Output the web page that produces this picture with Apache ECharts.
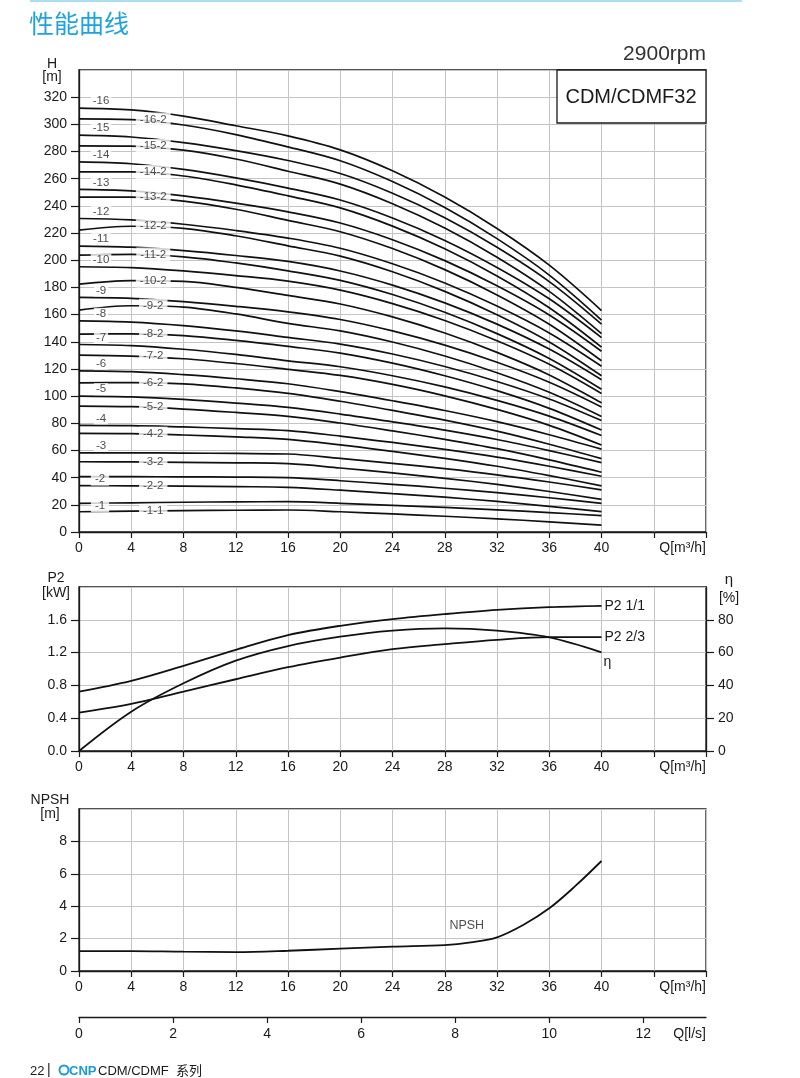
<!DOCTYPE html>
<html><head><meta charset="utf-8">
<script src="https://cdn.jsdelivr.net/npm/echarts@6/dist/echarts.min.js"></script>
<style>html,body{margin:0;padding:0;background:#fff}#c{width:800px;height:1078px}</style>
</head><body><div id="c"></div>
<script>
// ---------- DATA ----------
const Q = [0, 4, 8, 12, 16, 20, 24, 28, 32, 36, 40];           // m3/h
const h16   = [312, 310.6, 306.1, 299.0, 291.5, 281.2, 265.8, 246.5, 223.4, 196.4, 163];
const h16_2 = [304, 303.5, 299.5, 292.5, 283.4, 273.2, 257.9, 238.8, 215.9, 189.1, 156];
const h15   = [292, 290.7, 286.6, 280.7, 273.4, 263.8, 249.3, 231.3, 209.6, 184.3, 153];
const h15_2 = [284.2, 284, 281, 274.5, 265.5, 256, 241.6, 223.7, 202.2, 177.1, 146];
const h14   = [272.4, 271.0, 266.8, 260.6, 253.1, 244.3, 231.1, 214.6, 194.7, 171.6, 143];
const h14_2 = [265, 265, 262, 255.5, 247.4, 238.5, 225.1, 208.4, 188.4, 165, 136];
const h13   = [252.1, 251, 247.3, 242, 235.6, 227.4, 215.1, 199.7, 181.2, 159.7, 133];
const h13_2 = [246.4, 246.5, 243.5, 237.5, 229.3, 221, 208.6, 193.1, 174.5, 152.9, 126];
const h12   = [230.7, 229.7, 226.5, 221.9, 216.3, 208.8, 197.4, 183.3, 166.3, 146.5, 122];
const h12_2 = [222.1, 225, 223.5, 218, 210.6, 203, 191.5, 177.1, 159.9, 139.9, 115];
const h11   = [210.4, 209.6, 207.1, 203.5, 199.1, 192.1, 181.7, 168.6, 153, 134.6, 112];
const h11_2 = [203.7, 204.3, 202.5, 198, 192.2, 185.2, 174.8, 161.7, 146, 127.7, 105];
const h10   = [195.2, 194.5, 192.1, 188.7, 184.6, 178, 168.1, 155.7, 140.8, 123.5, 102];
const h10_2 = [182.4, 185, 184.5, 180, 174.1, 167.8, 158.3, 146.4, 132.2, 115.6, 95];
const h9    = [172.6, 171.9, 169.5, 166.1, 162, 156.4, 148, 137.5, 124.9, 110.2, 92];
const h9_2  = [163.3, 166.5, 165.5, 160.5, 153.5, 148, 139.8, 129.5, 117.2, 102.8, 85];
const h8    = [155.4, 154.5, 151.9, 148, 143.2, 138.3, 131, 121.8, 110.8, 97.9, 82];
const h8_2  = [145.6, 145.8, 144.5, 141, 136.6, 131.7, 124.3, 115, 104, 91, 75];
const h7    = [138, 137.2, 134.5, 130.7, 126, 121.6, 115, 106.8, 96.9, 85.3, 71];
const h7_2  = [130.2, 129.5, 127.5, 124, 119.7, 115.2, 108.6, 100.2, 90.2, 78.5, 64];
const h6    = [118.6, 118, 115.8, 112.8, 109.1, 103.3, 96.6, 89.4, 81.2, 71.6, 61];
const h6_2  = [109.8, 110, 109, 106, 102, 96.2, 89.5, 82.3, 74.2, 64.6, 54];
const h5    = [100, 99.4, 97.6, 94.9, 91.7, 86.8, 81.1, 75, 68.1, 59.9, 51];
const h5_2  = [92.7, 92.2, 90.5, 88, 85.1, 80.2, 74.4, 68.2, 61.3, 53.1, 44];
const h4    = [78.5, 78.3, 77.3, 76.1, 74.6, 70.6, 65.9, 60.8, 55.1, 48.4, 41];
const h4_2  = [72.6, 72.4, 71.4, 70, 68.2, 64.1, 59.3, 54.2, 48.4, 41.5, 34];
const h3    = [58.3, 58.3, 58.1, 57.8, 57.4, 54.2, 50.5, 46.6, 42.1, 36.8, 31];
const h3_2  = [51.7, 51.6, 51.3, 50.9, 50.3, 47.1, 43.5, 39.5, 35, 29.8, 24];
const h2    = [40.7, 40.7, 40.6, 40.4, 40, 37.7, 35.1, 32.2, 29, 25.2, 21];
const h2_2  = [34.1, 34, 33.8, 33.4, 32.9, 30.8, 28.2, 25.6, 22.5, 18.9, 15];
const h1    = [21.1, 21.5, 21.9, 22.2, 22.3, 21.1, 19.6, 18.1, 16.3, 14.3, 12];
const h1_1  = [14.9, 15.3, 15.7, 16, 16.2, 14.9, 13.3, 11.6, 9.7, 7.5, 5];

const p2Full     = [0.724, 0.855, 1.038, 1.234, 1.413, 1.527, 1.608, 1.67, 1.722, 1.755, 1.771];
const p2TwoThird = [0.468, 0.574, 0.724, 0.875, 1.022, 1.14, 1.242, 1.303, 1.356, 1.388, 1.388];
const eta        = [0, 24, 41.3, 55.1, 64, 69.7, 73.4, 74.8, 73.4, 69.3, 60.2];

const npshQ = [0, 4, 8, 12, 16, 20, 24, 28, 30, 32, 34, 36, 38, 40];
const npsh  = [1.23, 1.23, 1.19, 1.17, 1.25, 1.38, 1.5, 1.6, 1.77, 2.08, 2.84, 3.87, 5.25, 6.79];

const lsTicks = [0, 2, 4, 6, 8, 10, 12];
const lsMax = 48 / 3.6;

const curves = [
  ['-16', h16], ['-16-2', h16_2], ['-15', h15], ['-15-2', h15_2],
  ['-14', h14], ['-14-2', h14_2], ['-13', h13], ['-13-2', h13_2],
  ['-12', h12], ['-12-2', h12_2], ['-11', h11], ['-11-2', h11_2],
  ['-10', h10], ['-10-2', h10_2], ['-9', h9], ['-9-2', h9_2],
  ['-8', h8], ['-8-2', h8_2], ['-7', h7], ['-7-2', h7_2],
  ['-6', h6], ['-6-2', h6_2], ['-5', h5], ['-5-2', h5_2],
  ['-4', h4], ['-4-2', h4_2], ['-3', h3], ['-3-2', h3_2],
  ['-2', h2], ['-2-2', h2_2], ['-1', h1], ['-1-1', h1_1]
];
// labels drawn inline (in a gap of their own curve) rather than above it
const inlineStageLabels = ['-2', '-1'];

// ---------- STYLE ----------
const FONT = 'Liberation Sans, Arial, sans-serif';
const INK = '#1a1a1a';
const GRIDC = '#c4c4c4';

function xAxisQ(gi) {
  return {
    type: 'value', gridIndex: gi, min: 0, max: 48, interval: 4,
    axisLine: {show: true, lineStyle: {color: INK, width: 1.3}},
    axisTick: {show: true, length: 6, lineStyle: {color: INK, width: 1.2}},
    axisLabel: {
      color: INK, fontSize: 14, fontFamily: FONT, margin: 9, alignMaxLabel: 'right',
      formatter: v => v === 48 ? 'Q[m³/h]' : (v > 40 ? '' : String(v))
    },
    splitLine: {show: true, lineStyle: {color: GRIDC, width: 1}}
  };
}
function yAxisV(gi, max, interval, fmt, pos) {
  return {
    type: 'value', gridIndex: gi, min: 0, max: max, interval: interval, position: pos || 'left',
    axisLine: {show: true, lineStyle: {color: INK, width: 1.3}},
    axisTick: {show: true, length: 8, lineStyle: {color: INK, width: 1.2}},
    axisLabel: {color: INK, fontSize: 14, fontFamily: FONT, margin: 12, showMaxLabel: false,
      formatter: fmt || (v => String(v))},
    splitLine: {show: pos !== 'right', lineStyle: {color: GRIDC, width: 1}}
  };
}

const series = [];
curves.forEach(([name, arr]) => {
  series.push({
    type: 'line', name: name, xAxisIndex: 0, yAxisIndex: 0,
    data: Q.map((q, i) => [q, arr[i]]), smooth: 0.35, showSymbol: false, silent: true,
    lineStyle: {color: '#111', width: 1.7}, z: 2
  });
});
series.push({
  type: 'scatter', xAxisIndex: 0, yAxisIndex: 0, symbolSize: 0, silent: true, z: 5,
  data: curves.map(([name, arr]) => {
    const sub = name.split('-').length > 2;
    const inl = inlineStageLabels.indexOf(name) >= 0;
    const idx = sub ? 1 : 0;
    return {
      value: [Q[idx], arr[idx]],
      label: {show: true, position: 'inside', formatter: name,
        offset: sub ? [22, 0] : (inl ? [21, 2] : [22, -7]),
        padding: (sub || inl) ? [1, 4] : [0, 2]}
    };
  }),
  label: {show: true, color: '#222', fontSize: 11.5, fontFamily: FONT, backgroundColor: '#fff'}
});

const endLbl = (txt, off) => ({show: true, formatter: txt, color: INK, fontSize: 14, fontFamily: FONT, offset: off, distance: 3});
series.push({type: 'line', xAxisIndex: 1, yAxisIndex: 1, data: Q.map((q, i) => [q, p2Full[i]]),
  smooth: 0.35, showSymbol: false, silent: true, lineStyle: {color: '#111', width: 1.8}, endLabel: endLbl('P2 1/1', [0, 0])});
series.push({type: 'line', xAxisIndex: 1, yAxisIndex: 1, data: Q.map((q, i) => [q, p2TwoThird[i]]),
  smooth: 0.35, showSymbol: false, silent: true, lineStyle: {color: '#111', width: 1.8}, endLabel: endLbl('P2 2/3', [0, 0])});
series.push({type: 'line', xAxisIndex: 1, yAxisIndex: 2, data: Q.map((q, i) => [q, eta[i]]),
  smooth: 0.35, showSymbol: false, silent: true, lineStyle: {color: '#111', width: 1.8}, endLabel: endLbl('η', [-1, 10])});

series.push({type: 'line', xAxisIndex: 2, yAxisIndex: 3, data: npshQ.map((q, i) => [q, npsh[i]]),
  smooth: 0.35, showSymbol: false, silent: true, lineStyle: {color: '#111', width: 1.8}});
series.push({type: 'scatter', xAxisIndex: 2, yAxisIndex: 3, symbolSize: 0, silent: true, z: 5,
  data: [{value: [npshQ[7], npsh[7]]}],
  label: {show: true, position: 'inside', formatter: 'NPSH', offset: [22, -20], color: '#222', fontSize: 12.5, fontFamily: FONT}});

const txt = (x, y, s, size, align, extra) => Object.assign({
  type: 'text', x: x, y: y, z: 100,
  style: Object.assign({text: s, fill: INK, font: size + 'px ' + FONT, textAlign: align || 'left', textVerticalAlign: 'middle'}, extra || {})
});

const option = {
  animation: false,
  backgroundColor: '#fff',
  grid: [
    {left: 79, top: 70, width: 627, height: 462, show: true, borderColor: INK, borderWidth: 1.3, backgroundColor: 'transparent'},
    {left: 79, top: 587, width: 627, height: 164, show: true, borderColor: INK, borderWidth: 1.3, backgroundColor: 'transparent'},
    {left: 79, top: 809, width: 627, height: 162, show: true, borderColor: INK, borderWidth: 1.3, backgroundColor: 'transparent'}
  ],
  xAxis: [
    xAxisQ(0), xAxisQ(1), xAxisQ(2),
    {
      type: 'value', gridIndex: 2, min: 0, max: lsMax, position: 'bottom', offset: 46,
      axisLine: {show: true, lineStyle: {color: INK, width: 1.3}},
      axisTick: {show: true, length: 6, customValues: lsTicks, lineStyle: {color: INK, width: 1.2}},
      axisLabel: {color: INK, fontSize: 14, fontFamily: FONT, margin: 10, alignMaxLabel: 'right',
        customValues: lsTicks.concat([lsMax]),
        formatter: v => v > 12.5 ? 'Q[l/s]' : String(v)},
      splitLine: {show: false}
    }
  ],
  yAxis: [
    yAxisV(0, 340, 20),
    yAxisV(1, 2, 0.4, v => v.toFixed(1)),
    yAxisV(1, 100, 20, null, 'right'),
    yAxisV(2, 10, 2)
  ],
  series: series,
  graphic: [
    {type: 'line', z: 100, shape: {x1: 30, y1: 1, x2: 742, y2: 1}, style: {stroke: '#5bbbe6', lineWidth: 1}},
    txt(29, 23, '性能曲线', 25, 'left', {fill: '#22a2dd', font: '25px "Noto Sans CJK SC", sans-serif'}),
    txt(706, 54, '2900rpm', 21, 'right', {fill: '#333'}),
    {type: 'rect', z: 99, shape: {x: 557, y: 70, width: 149, height: 53}, style: {fill: '#fff', stroke: INK, lineWidth: 1.3}},
    txt(631, 97, 'CDM/CDMF32', 20, 'center'),
    txt(52, 64, 'H', 14, 'center'),
    txt(52, 77, '[m]', 14, 'center'),
    txt(56, 578, 'P2', 14, 'center'),
    txt(56, 593, '[kW]', 14, 'center'),
    txt(729, 580, 'η', 15, 'center'),
    txt(729, 598, '[%]', 14, 'center'),
    txt(50, 800, 'NPSH', 14, 'center'),
    txt(50, 814, '[m]', 14, 'center'),
    txt(30, 1071, '22', 13, 'left'),
    txt(47, 1070, '|', 14, 'left'),
    {type: 'circle', z: 100, shape: {cx: 64, cy: 1070, r: 4.5}, style: {fill: 'none', stroke: '#1e9ad6', lineWidth: 2}},
    txt(69, 1071, 'CNP', 13, 'left', {fill: '#1e9ad6', font: 'bold 13px ' + FONT}),
    txt(98, 1071, 'CDM/CDMF  系列', 13, 'left', {font: '13px ' + FONT + ', "Noto Sans CJK SC"'})
  ]
};

const chart = echarts.init(document.getElementById('c'), null, {renderer: 'canvas'});
chart.setOption(option);
</script>
</body></html>
